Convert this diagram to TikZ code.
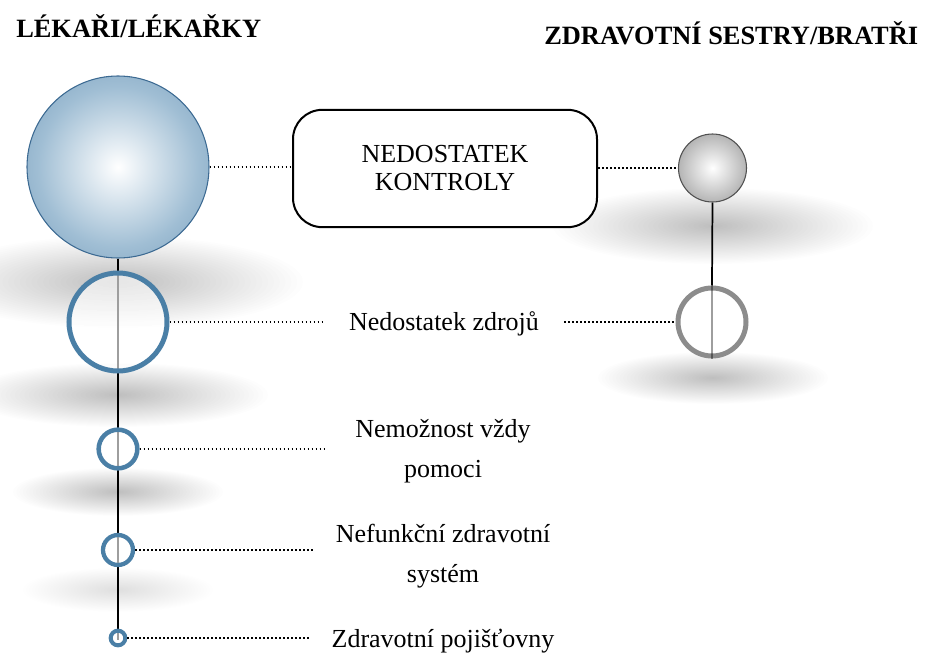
\documentclass[tikz,border=0pt]{standalone}
\usepackage{fontspec}
\setmainfont{Liberation Serif}
\definecolor{ringblue}{RGB}{74,127,166}
\definecolor{sphedge}{RGB}{88,133,170}
\definecolor{sphmid}{RGB}{160,190,212}
\definecolor{sphstroke}{RGB}{60,106,146}
\definecolor{greyedge}{RGB}{112,112,112}
\definecolor{greystroke}{RGB}{80,80,80}
\definecolor{ringgrey}{RGB}{140,140,140}
\pgfdeclareradialshading{bluesph}{\pgfpoint{0bp}{0bp}}{color(0bp)=(white); color(22bp)=(sphmid); color(48bp)=(sphedge); color(100bp)=(sphedge)}
\pgfdeclareradialshading{greysph}{\pgfpoint{0bp}{0bp}}{color(0bp)=(white); color(48bp)=(greyedge); color(100bp)=(greyedge)}
\newcommand\sshadow[5]{%
  \foreach \k in {1,...,32}{%
    \fill[black, opacity=#5] (#1,#2) ellipse ({#3*\k/32} and {#4*\k/32});%
  }%
}
\begin{document}
\begin{tikzpicture}[x=0.75pt,y=-0.75pt,
  bluering/.style={circle, draw=ringblue, fill=white, fill opacity=0.62, draw opacity=1, inner sep=0pt},
  greyring/.style={circle, draw=ringgrey, fill=white, fill opacity=0.62, draw opacity=1, inner sep=0pt},
  dotline/.style={line width=1.4pt, dash pattern=on 1.4pt off 1.6pt},
  stem/.style={line width=1.3pt, black},
  titletext/.style={font=\fontsize{19.8}{24}\selectfont\bfseries, inner sep=0pt},
  bodytext/.style={font=\fontsize{19.5}{30}\selectfont, inner sep=0pt, align=center},
  box/.style={draw, line width=1.5pt, rounded corners=22pt, fill=white, minimum width=228pt, minimum height=88pt, align=center, font=\fontsize{19.5}{21}\selectfont}
]
\useasboundingbox (0,0) rectangle (929,653);
% shadows
\sshadow{118}{282}{185}{46}{0.0085}
\sshadow{118}{395}{150}{32}{0.0075}
\sshadow{118}{492}{105}{24}{0.006}
\sshadow{118}{590}{95}{22}{0.005}
\sshadow{713}{226}{160}{38}{0.0065}
\sshadow{713}{378}{115}{26}{0.006}

% titles
\node[titletext, anchor=base west] (tl) at (16,37) {LÉKAŘI/LÉKAŘKY};
\node[titletext, anchor=base west] (tr) at (544,45) {ZDRAVOTNÍ SESTRY/BRATŘI};

% left column
\node[circle, inner sep=0pt, minimum size=136.5pt, draw=sphstroke, line width=0.8pt, shading=bluesph] (bigsph) at (118,167) {};
\coordinate (stemend) at (118,640);
\draw[stem] (bigsph.south) -- (stemend);
\node[bluering, line width=3.75pt, minimum size=73.5pt] (ring1) at (118,322) {};
\node[bluering, line width=3.4pt, minimum size=29pt] (ring2) at (118,449) {};
\node[bluering, line width=3.2pt, minimum size=22.5pt] (ring3) at (118,550) {};
\node[bluering, line width=3pt, minimum size=11pt] (ring4) at (118,638) {};

% right column
\node[circle, inner sep=0pt, minimum size=51pt, draw=greystroke, line width=0.8pt, shading=greysph] (greysph) at (712.5,168) {};
\node[greyring, line width=3.75pt, minimum size=51pt] (ring5) at (712,322) {};
\draw[stem] (greysph.south) -- (ring5.north);
\draw[stem, opacity=0.38] (ring5.north) -- (ring5.south);

% box
\node[box] (kontrola) at (445,168.5) {NEDOSTATEK\\KONTROLY};

% texts
\node[bodytext, anchor=base] (t1) at (444,330) {Nedostatek zdrojů};
\node[bodytext, anchor=base] (t2) at (443,477) {Nemožnost vždy\\pomoci};
\node[bodytext, anchor=base] (t3) at (443,582) {Nefunkční zdravotní\\systém};
\node[bodytext, anchor=base] (t4) at (443,647) {Zdravotní pojišťovny};

% dotted connectors
\draw[dotline] (bigsph.east) -- (bigsph.east -| kontrola.west);
\draw[dotline] (kontrola.east |- greysph.west) -- (greysph.west);
\coordinate (d1a) at (324,322);
\coordinate (d1b) at (564,322);
\draw[dotline] (ring1.east) -- (d1a);
\draw[dotline] (d1b) -- (ring5.west);
\coordinate (d2) at (325,449);
\draw[dotline] (ring2.east) -- (d2);
\coordinate (d3) at (313,550);
\draw[dotline] (ring3.east) -- (d3);
\coordinate (d4) at (309,638);
\draw[dotline] (ring4.east) -- (d4);
\end{tikzpicture}
\end{document}
